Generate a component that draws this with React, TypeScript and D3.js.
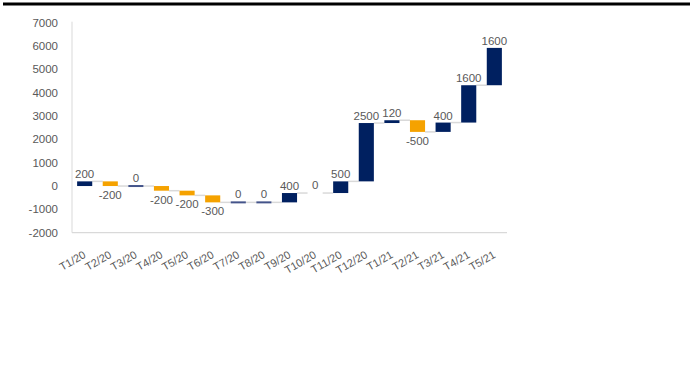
import React from "react";
import * as d3 from "d3";

const categories = ["T1/20","T2/20","T3/20","T4/20","T5/20","T6/20","T7/20","T8/20","T9/20","T10/20","T11/20","T12/20","T1/21","T2/21","T3/21","T4/21","T5/21"];
const deltas = [200,-200,0,-200,-200,-300,0,0,400,0,500,2500,120,-500,400,1600,1600];
const labels = ["200","-200","0","-200","-200","-300","0","0","400","0","500","2500","120","-500","400","1600","1600"];
const showBar = [true,true,true,true,true,true,true,true,true,false,true,true,true,true,true,true,true];
const yTicks = [-2000,-1000,0,1000,2000,3000,4000,5000,6000,7000];

const NAVY = "#002060";
const ORANGE = "#F5A200";
const TEXT = "#595959";
const GRID = "#d9d9d9";

export default function App() {
  const W = 690, H = 385;
  const left = 72, right = 507, top = 22.7, bottom = 232.7;
  const x = d3.scaleBand<string>().domain(categories).range([left, right]).paddingInner(0.41).paddingOuter(0.2);
  const y = d3.scaleLinear().domain([-2000, 7000]).range([bottom, top]);

  let cum = 0;
  const bars = deltas.map((d, i) => {
    const start = cum;
    cum += d;
    return { cat: categories[i], start, end: cum, d, label: labels[i], show: showBar[i] };
  });

  const bw = x.bandwidth();
  const font = "'Liberation Sans', Arial, sans-serif";

  return (
    <svg width={W} height={H} style={{ position: "absolute", left: 0, top: 0, background: "#fff" }}>
      <line x1={3} x2={W} y1={4} y2={4} stroke="#000" strokeWidth={3} />
      <line x1={left} x2={left} y1={top - 1} y2={bottom} stroke={GRID} strokeWidth={1} />
      <line x1={left} x2={right} y1={bottom} y2={bottom} stroke={GRID} strokeWidth={1.2} />
      {yTicks.map((t) => (
        <text key={t} x={58} y={y(t) + 4} textAnchor="end" fontFamily={font} fontSize={11.5} fill={TEXT}>{t}</text>
      ))}
      {bars.map((b, i) => {
        if (i === bars.length - 1) return null;
        const x0 = (x(b.cat) as number) + bw;
        const x1 = x(categories[i + 1]) as number;
        return <line key={"c" + i} x1={x0} x2={x1} y1={y(b.end)} y2={y(b.end)} stroke={GRID} strokeWidth={1.5} />;
      })}
      {bars.map((b, i) => {
        const bx = x(b.cat) as number;
        const y0 = y(Math.max(b.start, b.end));
        const y1 = y(Math.min(b.start, b.end));
        let h = y1 - y0;
        let yy = y0;
        if (h < 2) { yy = y0 - 1; h = 2; }
        const neg = b.d < 0;
        const color = neg ? ORANGE : b.d === 0 ? "#44548a" : NAVY;
        const cx = bx + bw / 2;
        const ly = neg ? yy + h + 13 : yy - 3;
        return (
          <g key={b.cat}>
            {b.show && <rect x={bx} y={yy} width={bw} height={h} fill={color} />}
            <text x={cx} y={ly} textAnchor="middle" fontFamily={font} fontSize={11.5} fill={TEXT}>{b.label}</text>
          </g>
        );
      })}
      {categories.map((c) => {
        const cx = (x(c) as number) + bw / 2;
        return (
          <text key={"t" + c} transform={`translate(${cx + 2},${257}) rotate(-30)`} textAnchor="end" fontFamily={font} fontSize={11} fill={TEXT}>{c}</text>
        );
      })}
    </svg>
  );
}
